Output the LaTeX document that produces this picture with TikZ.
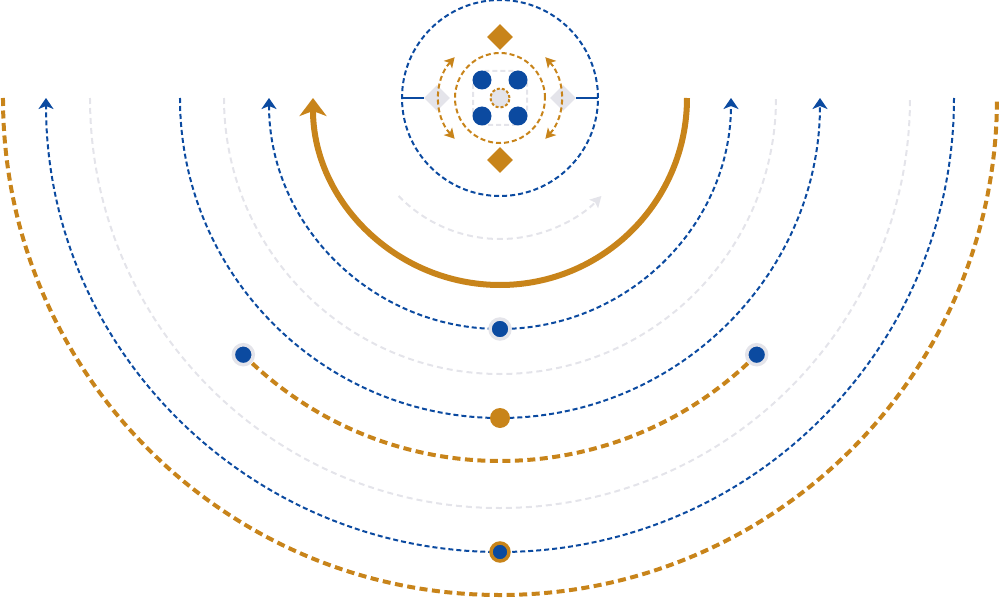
\documentclass[tikz,border=0pt]{standalone}
\usetikzlibrary{arrows.meta,shapes.geometric}
\definecolor{ringblue}{HTML}{0B4AA0}
\definecolor{ringgold}{HTML}{C8841A}
\definecolor{ringgray}{HTML}{E4E4EA}
\begin{document}
\begin{tikzpicture}[x=1pt,y=1pt,
	orbit/.style={ringblue,line width=2pt,dash pattern=on 5pt off 3pt},
	ghost/.style={ringgray,line width=2pt,dash pattern=on 6pt off 4pt},
	band/.style={ringgold,line width=4pt,dash pattern=on 8pt off 4.5pt},
	spin/.style={ringgold,line width=2pt,dash pattern=on 5pt off 3pt},
	tip/.style={-{Stealth[length=11pt,width=15pt,inset=3pt]}},
	tips/.style={{Stealth[length=11pt,width=15pt,inset=3pt]}-{Stealth[length=11pt,width=15pt,inset=3pt]}},
	twin/.style={{Stealth[length=10pt,width=11pt,inset=2.5pt]}-{Stealth[length=10pt,width=11pt,inset=2.5pt]}},
	bdot/.style={circle,fill=ringblue,draw=ringgray,line width=3.5pt,minimum size=20pt,inner sep=0pt},
	gdot/.style={circle,fill=ringgold,minimum size=20pt,inner sep=0pt},
	rdot/.style={circle,fill=ringblue,draw=ringgold,line width=3.5pt,minimum size=18pt,inner sep=0pt},
	core/.style={circle,fill=ringblue,minimum size=19pt,inner sep=0pt},
	gem/.style={diamond,fill=ringgold,minimum size=26pt,inner sep=0pt},
	pale/.style={diamond,fill=ringgray,minimum size=26pt,inner sep=0pt}]
	\useasboundingbox (-500,-501) rectangle (500,98);
	% outer rings
	\draw[band] (-497,0) arc[start angle=180,end angle=360,radius=497];
	\draw[orbit,tip] (454,0) arc[start angle=0,end angle=-180,radius=454];
	\draw[ghost] (-410,0) arc[start angle=180,end angle=360,radius=410];
	\draw[orbit,tip] (-320,0) arc[start angle=180,end angle=360,radius=320];
	\draw[ghost] (-276,0) arc[start angle=180,end angle=360,radius=276];
	\draw[orbit,tips] (-231,0) arc[start angle=180,end angle=360,radius=231];
	\draw[ringgold,line width=6pt,-{Stealth[length=18pt,width=27pt,inset=5pt]}] (187,0) arc[start angle=0,end angle=-180,radius=187];
	\draw[ghost,-{Stealth[length=11pt,width=12pt,inset=2pt]}] (-136:141) arc[start angle=-136,end angle=-44,radius=141];
	% middle band between the side dots
	\coordinate (bl) at (-135:363);
	\coordinate (br) at (-45:363);
	\draw[band] (bl) arc[start angle=-135,end angle=-45,radius=363];
	\node[bdot] (left) at (bl) {};
	\node[bdot] (right) at (br) {};
	\node[bdot] (inner) at (0,-231) {};
	\node[gdot] (mid) at (0,-320) {};
	\node[rdot] (base) at (0,-454) {};
	% the small wheel on top
	\draw[orbit] (0,0) circle[radius=98];
	\node[pale] (west) at (-63,0) {};
	\node[pale] (east) at (63,0) {};
	\coordinate (wl) at (-98,0);
	\coordinate (wr) at (98,0);
	\draw[ringblue,line width=2pt] (wl) -- (west);
	\draw[ringblue,line width=2pt] (east) -- (wr);
	\node[gem] (north) at (0,61) {};
	\node[gem] (south) at (0,-62) {};
	\draw[spin] (0,0) circle[radius=45];
	\draw[spin,twin] (138:61) arc[start angle=138,end angle=222,radius=61];
	\draw[spin,twin] (-42:61) arc[start angle=-42,end angle=42,radius=61];
	\draw[ringgray,line width=2pt,dash pattern=on 5pt off 3pt,rounded corners=12pt] (-27,-27) rectangle (27,27);
	\node[core] (nw) at (-18,18) {};
	\node[core] (ne) at (18,18) {};
	\node[core] (sw) at (-18,-18) {};
	\node[core] (se) at (18,-18) {};
	\node[circle,fill=ringgray,draw=ringgold,line width=2pt,dash pattern=on 3pt off 2pt,minimum size=19pt,inner sep=0pt] (hub) at (0,0) {};
\end{tikzpicture}
\end{document}
